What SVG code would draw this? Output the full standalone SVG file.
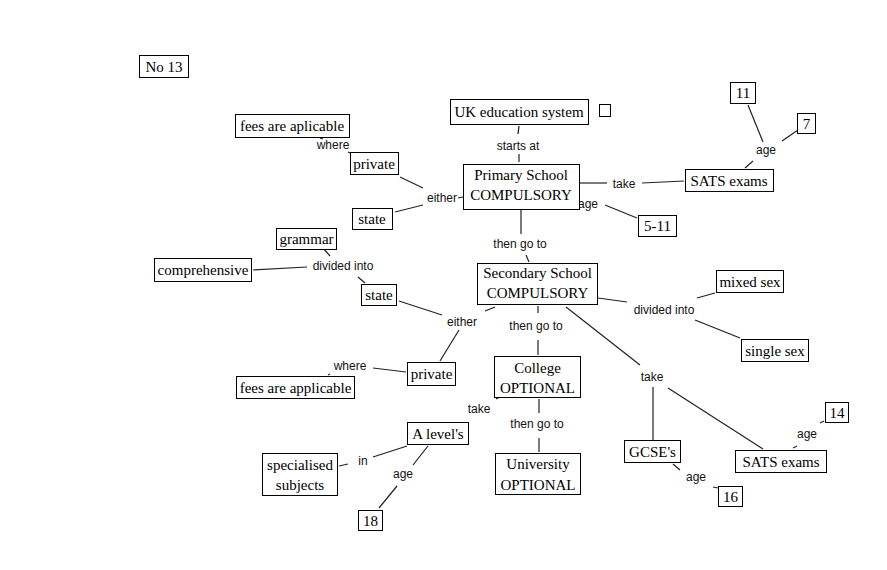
<svg xmlns="http://www.w3.org/2000/svg" width="887" height="570" viewBox="0 0 887 570">
<style>
.n rect{fill:#fff;stroke:#000;stroke-width:1}
.n text{font-family:"Liberation Serif","Times New Roman",serif;font-size:15px;fill:#000;text-anchor:middle}
.l{font-family:"Liberation Sans",Arial,sans-serif;font-size:12px;fill:#111;text-anchor:middle}
#connectors line{stroke:#222;stroke-width:1.2}
</style>
<rect width="887" height="570" fill="#fff"/>
<g id="connectors">
<line x1="519" y1="126" x2="518" y2="134"/>
<line x1="519" y1="154" x2="519" y2="162"/>
<line x1="521" y1="210" x2="521" y2="234"/>
<line x1="526" y1="255" x2="529" y2="262"/>
<line x1="580" y1="183" x2="607" y2="183"/>
<line x1="642" y1="183" x2="684" y2="181"/>
<line x1="605" y1="205" x2="637" y2="218"/>
<line x1="745" y1="168" x2="753" y2="161"/>
<line x1="763" y1="142" x2="748" y2="105"/>
<line x1="782" y1="141" x2="798" y2="130"/>
<line x1="458" y1="198" x2="463" y2="197"/>
<line x1="400" y1="177" x2="423" y2="188"/>
<line x1="395" y1="212" x2="423" y2="205"/>
<line x1="348" y1="152" x2="350" y2="153"/>
<line x1="320" y1="138" x2="323" y2="139"/>
<line x1="323" y1="248" x2="330" y2="256"/>
<line x1="253" y1="270" x2="307" y2="267"/>
<line x1="358" y1="277" x2="365" y2="283"/>
<line x1="399" y1="301" x2="442" y2="315"/>
<line x1="495" y1="307" x2="485" y2="311"/>
<line x1="459" y1="330" x2="440" y2="361"/>
<line x1="406" y1="372" x2="373" y2="368"/>
<line x1="328" y1="375" x2="330" y2="374"/>
<line x1="538" y1="306" x2="538" y2="313"/>
<line x1="538" y1="340" x2="538" y2="355"/>
<line x1="598" y1="298" x2="627" y2="302"/>
<line x1="697" y1="298" x2="715" y2="293"/>
<line x1="695" y1="320" x2="740" y2="338"/>
<line x1="566" y1="307" x2="640" y2="365"/>
<line x1="653" y1="387" x2="653" y2="440"/>
<line x1="668" y1="388" x2="763" y2="449"/>
<line x1="673" y1="464" x2="680" y2="470"/>
<line x1="713" y1="487" x2="718" y2="488"/>
<line x1="793" y1="448" x2="797" y2="446"/>
<line x1="820" y1="423" x2="824" y2="421"/>
<line x1="496" y1="399" x2="500" y2="397"/>
<line x1="461" y1="428" x2="461" y2="431"/>
<line x1="539" y1="399" x2="539" y2="413"/>
<line x1="539" y1="438" x2="539" y2="452"/>
<line x1="407" y1="446" x2="373" y2="457"/>
<line x1="348" y1="464" x2="339" y2="466"/>
<line x1="428" y1="446" x2="413" y2="465"/>
<line x1="397" y1="486" x2="379" y2="508"/>
</g>
<g id="labels">
<text class="l" x="518" y="150">starts at</text>
<text class="l" x="333" y="149">where</text>
<text class="l" x="442" y="202">either</text>
<text class="l" x="624" y="188">take</text>
<text class="l" x="588" y="208">age</text>
<text class="l" x="766" y="154">age</text>
<text class="l" x="520" y="248">then go to</text>
<text class="l" x="343" y="270">divided into</text>
<text class="l" x="462" y="326">either</text>
<text class="l" x="536" y="330">then go to</text>
<text class="l" x="664" y="314">divided into</text>
<text class="l" x="350" y="370">where</text>
<text class="l" x="652" y="381">take</text>
<text class="l" x="479" y="413">take</text>
<text class="l" x="537" y="428">then go to</text>
<text class="l" x="363" y="465">in</text>
<text class="l" x="403" y="478">age</text>
<text class="l" x="696" y="481">age</text>
<text class="l" x="807" y="438">age</text>
</g>
<g id="no13" class="n"><rect x="139.5" y="55.5" width="49" height="22"/><text x="164" y="72">No 13</text></g>
<g id="uk" class="n"><rect x="450.5" y="99.5" width="138" height="25"/><text x="519" y="117">UK education system</text></g>
<g id="square" class="n"><rect x="599.5" y="104.5" width="11" height="12"/></g>
<g id="fees1" class="n"><rect x="235.5" y="114.5" width="114" height="23"/><text x="292" y="131">fees are aplicable</text></g>
<g id="private1" class="n"><rect x="350.5" y="152.5" width="48" height="22"/><text x="374" y="169">private</text></g>
<g id="state1" class="n"><rect x="352.5" y="208.5" width="40" height="21"/><text x="372" y="224">state</text></g>
<g id="primary" class="n"><rect x="463.5" y="164.5" width="116" height="45"/><text x="521" y="180">Primary School</text><text x="521" y="200">COMPULSORY</text></g>
<g id="sats1" class="n"><rect x="685.5" y="169.5" width="88" height="22"/><text x="729" y="186">SATS exams</text></g>
<g id="n11" class="n"><rect x="730.5" y="82.5" width="25" height="21"/><text x="743" y="98">11</text></g>
<g id="n7" class="n"><rect x="797.5" y="113.5" width="18" height="20"/><text x="806.5" y="129">7</text></g>
<g id="n511" class="n"><rect x="638.5" y="215.5" width="38" height="21"/><text x="657.5" y="231">5-11</text></g>
<g id="grammar" class="n"><rect x="276.5" y="228.5" width="60" height="21"/><text x="306.5" y="244">grammar</text></g>
<g id="comprehensive" class="n"><rect x="154.5" y="258.5" width="97" height="23"/><text x="203" y="275">comprehensive</text></g>
<g id="state2" class="n"><rect x="361.5" y="284.5" width="35" height="21"/><text x="379" y="300">state</text></g>
<g id="secondary" class="n"><rect x="477.5" y="263.5" width="120" height="41"/><text x="537.5" y="278">Secondary School</text><text x="537.5" y="298">COMPULSORY</text></g>
<g id="mixed" class="n"><rect x="716.5" y="270.5" width="67" height="22"/><text x="750" y="287">mixed sex</text></g>
<g id="single" class="n"><rect x="741.5" y="339.5" width="67" height="22"/><text x="775" y="356">single sex</text></g>
<g id="private2" class="n"><rect x="407.5" y="362.5" width="48" height="23"/><text x="431.5" y="379">private</text></g>
<g id="fees2" class="n"><rect x="236.5" y="376.5" width="118" height="22"/><text x="295.5" y="393">fees are applicable</text></g>
<g id="college" class="n"><rect x="494.5" y="356.5" width="86" height="41"/><text x="537.5" y="373">College</text><text x="537.5" y="393">OPTIONAL</text></g>
<g id="alevels" class="n"><rect x="407.5" y="422.5" width="61" height="22"/><text x="438" y="439">A level's</text></g>
<g id="specialised" class="n"><rect x="262.5" y="453.5" width="75" height="42"/><text x="300" y="470">specialised</text><text x="300" y="490">subjects</text></g>
<g id="n18" class="n"><rect x="358.5" y="510.5" width="24" height="20"/><text x="370.5" y="526">18</text></g>
<g id="university" class="n"><rect x="495.5" y="453.5" width="85" height="41"/><text x="538" y="469">University</text><text x="538" y="490">OPTIONAL</text></g>
<g id="gcse" class="n"><rect x="624.5" y="440.5" width="56" height="22"/><text x="652.5" y="457">GCSE's</text></g>
<g id="sats2" class="n"><rect x="735.5" y="450.5" width="91" height="22"/><text x="781" y="467">SATS exams</text></g>
<g id="n14" class="n"><rect x="825.5" y="402.5" width="23" height="20"/><text x="837" y="418">14</text></g>
<g id="n16" class="n"><rect x="718.5" y="486.5" width="24" height="20"/><text x="730.5" y="502">16</text></g>
</svg>
